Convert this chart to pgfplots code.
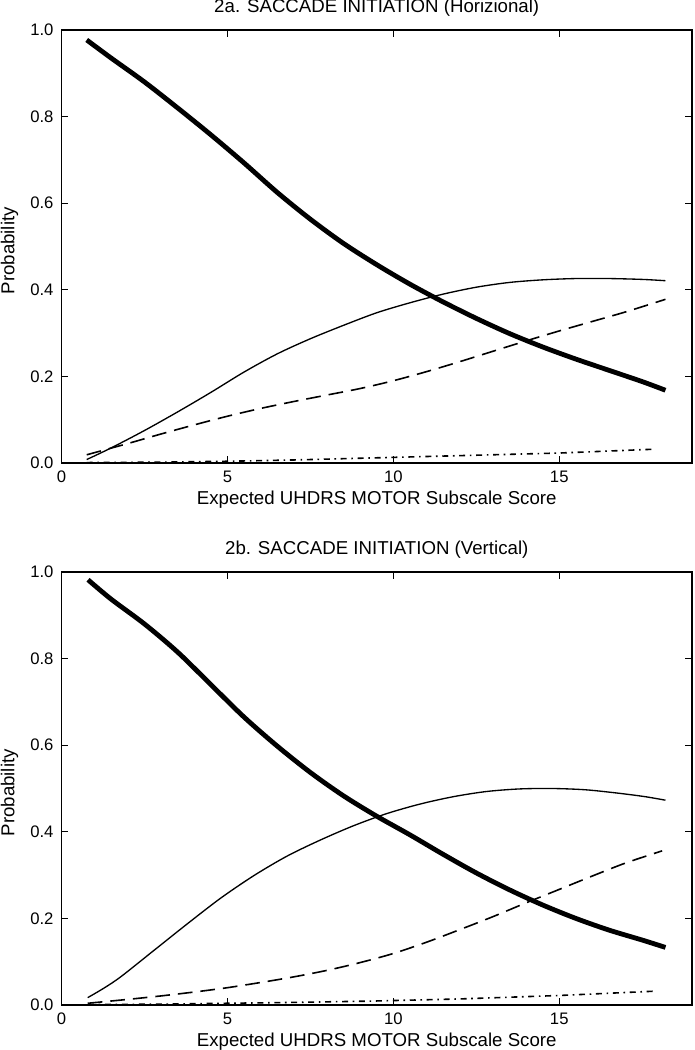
\documentclass[border=0pt]{standalone}
\usepackage{fontspec}
\setmainfont{Liberation Sans}
\usepackage{pgfplots}
\pgfplotsset{compat=1.18}
\pgfplotsset{
  myax/.style={
    width=472.875pt, height=324.75pt, scale only axis,
    xmin=0, xmax=19, ymin=0, ymax=1,
    xtick={0,5,10,15}, ytick={0,0.2,0.4,0.6,0.8,1.0},
    yticklabel style={/pgf/number format/fixed, /pgf/number format/fixed zerofill, /pgf/number format/precision=1, xshift=-2.5pt},
    xticklabel style={yshift=-2.5pt},
    /pgf/number format/assume math mode=true,
    tick align=inside, major tick length=5pt,
    tick style={black, line width=0.8pt},
    axis line style={line width=1.1pt},
    ticklabel style={font=\fontsize{12.5}{14}\selectfont},
    xlabel={Expected UHDRS MOTOR Subscale Score}, ylabel={Probability},
    xlabel style={font=\fontsize{14}{16}\selectfont, at={(axis description cs:0.5,-0.0855)}, anchor=center},
    ylabel style={font=\fontsize{14}{16}\selectfont, at={(axis description cs:-0.0825,0.49)}, anchor=center},
    title style={font=\fontsize{14}{16}\selectfont, at={(axis description cs:0.5,1)}, anchor=center, yshift=10.5pt},
    clip=false,
  },
  thickc/.style={black, line width=3.6pt, smooth},
  thinc/.style={black, line width=1pt, smooth},
  dashc/.style={black, line width=1.2pt, smooth, dash pattern=on 11pt off 6pt},
  dashdotc/.style={black, line width=1.2pt, dash pattern=on 4.5pt off 3.5pt on 1.2pt off 3.5pt},
  dotc/.style={black, line width=0.9pt, dash pattern=on 0.8pt off 2.2pt},
}
\begin{document}
\begin{tikzpicture}
\useasboundingbox (-46.125pt,-440.25pt) rectangle (474.375pt,347.25pt);
\begin{axis}[myax, at={(0pt,0pt)}, anchor=south west,
  title={2a. SACCADE INITIATION (Horizional)}]
\addplot[thickc] coordinates {(0.76,0.977) (1.5,0.935) (2.5,0.880) (3.5,0.820) (4.5,0.758) (5.5,0.693) (6.5,0.625) (7.5,0.563) (8.5,0.507) (9.5,0.458) (10.5,0.413) (11.5,0.372) (12.5,0.334) (13.5,0.299) (14.5,0.268) (15.5,0.240) (16.5,0.214) (17.5,0.188) (18.2,0.168)};
\addplot[thinc] coordinates {(0.76,0.008) (1.5,0.035) (2.5,0.075) (3.5,0.118) (4.5,0.163) (5.5,0.210) (6.5,0.252) (7.5,0.287) (8.5,0.318) (9.5,0.347) (10.5,0.370) (11.5,0.390) (12.5,0.406) (13.5,0.417) (14.5,0.423) (15.5,0.426) (16.5,0.426) (17.5,0.424) (18.2,0.421)};
\addplot[dashc] coordinates {(0.76,0.019) (2,0.045) (3,0.067) (4,0.088) (5,0.108) (6,0.126) (7,0.142) (8,0.157) (9,0.172) (10,0.190) (11,0.211) (12,0.234) (13,0.258) (14,0.282) (15,0.305) (16,0.327) (17,0.349) (18.2,0.378)};
\addplot[dashdotc] coordinates {(0.76,0.001) (3,0.002) (5,0.004) (7,0.007) (9,0.011) (11,0.015) (13,0.019) (15,0.023) (17.9,0.032)};
\addplot[dotc] coordinates {(0.76,0.001) (18.2,0.001)};
\end{axis}
\begin{axis}[myax, at={(0pt,-406.5pt)}, anchor=south west,
  title={2b. SACCADE INITIATION (Vertical)}]
\addplot[thickc] coordinates {(0.8,0.982) (1.5,0.937) (2.5,0.880) (3.5,0.815) (4.5,0.740) (5.5,0.665) (6.5,0.598) (7.5,0.537) (8.5,0.483) (9.5,0.436) (10.5,0.393) (11.5,0.348) (12.5,0.305) (13.5,0.266) (14.5,0.231) (15.5,0.200) (16.5,0.173) (17.5,0.150) (18.2,0.133)};
\addplot[thinc] coordinates {(0.79,0.017) (1.3,0.040) (1.8,0.066) (2.8,0.127) (3.8,0.188) (4.8,0.247) (5.8,0.299) (6.8,0.344) (7.8,0.381) (8.8,0.414) (9.8,0.442) (10.8,0.464) (11.8,0.481) (12.8,0.493) (13.8,0.499) (14.8,0.500) (15.8,0.497) (16.8,0.489) (17.6,0.481) (18.2,0.473)};
\addplot[dashc] coordinates {(0.79,0.004) (2,0.013) (3,0.021) (4,0.030) (5,0.040) (6,0.052) (7,0.065) (8,0.080) (9,0.098) (10,0.119) (11,0.145) (12,0.174) (13,0.204) (14,0.236) (15,0.267) (16,0.298) (17,0.328) (18.1,0.356)};
\addplot[dashdotc] coordinates {(0.8,0.001) (3,0.002) (5,0.004) (7,0.006) (9.3,0.009) (12,0.014) (15,0.022) (17.9,0.032)};
\addplot[dotc] coordinates {(0.8,0.001) (18.2,0.001)};
\end{axis}
\end{tikzpicture}
\end{document}
